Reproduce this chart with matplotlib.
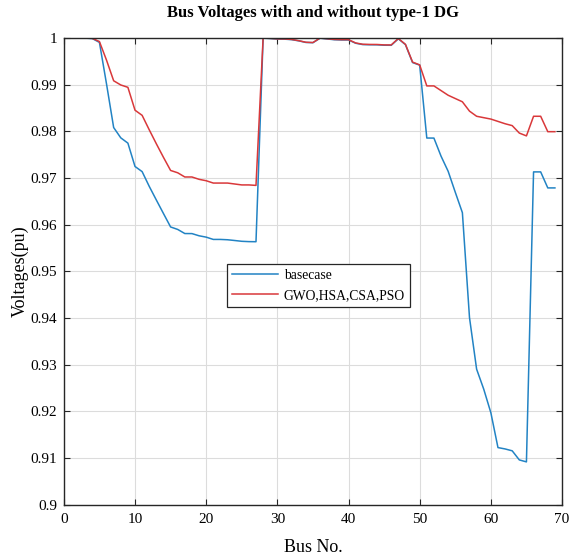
import numpy as np
import matplotlib
matplotlib.use('Agg')
import matplotlib.pyplot as plt

# bus numbers of the 69-bus feeder
bus = np.arange(1, 70)

# voltages without DG (base case)
v_base = [1.0000, 0.99997, 0.99993, 0.99984, 0.99902, 0.99009, 0.98079, 0.97858, 0.97745, 0.97245,
          0.97135, 0.96819, 0.96526, 0.96237, 0.95950, 0.95897, 0.95809, 0.95808, 0.95761, 0.95732,
          0.95683, 0.95683, 0.95676, 0.95660, 0.95643, 0.95636, 0.95634, 0.99993, 0.99985, 0.99973,
          0.99971, 0.99961, 0.99935, 0.99901, 0.99895, 0.99992, 0.99975, 0.99959, 0.99954, 0.99954,
          0.99884, 0.99855, 0.99851, 0.99850, 0.99841, 0.99840, 0.99979, 0.99854, 0.99470, 0.99415,
          0.97854, 0.97853, 0.97466, 0.97142, 0.96694, 0.96256, 0.94008, 0.92905, 0.92477, 0.91973,
          0.91226, 0.91197, 0.91157, 0.90962, 0.90920, 0.97129, 0.97129, 0.96786, 0.96786]

# voltages with type-1 DG (GWO, HSA, CSA, PSO give the same profile)
v_dg = [1.0000, 0.99998, 0.99995, 0.99988, 0.99920, 0.9952, 0.9908, 0.9899, 0.9894, 0.9845,
        0.9834, 0.9803, 0.9773, 0.9744, 0.9716, 0.9711, 0.9702, 0.9702, 0.9697, 0.9694,
        0.9689, 0.9689, 0.9689, 0.9687, 0.9685, 0.9685, 0.9684, 0.99995, 0.99988, 0.99977,
        0.99975, 0.99965, 0.99939, 0.99905, 0.99899, 0.99995, 0.99980, 0.99965, 0.99960, 0.99960,
        0.99890, 0.99862, 0.99858, 0.99857, 0.99848, 0.99847, 0.99985, 0.99860, 0.99480, 0.99420,
        0.9897, 0.9897, 0.9887, 0.9877, 0.9870, 0.9863, 0.9843, 0.9832, 0.9829, 0.9826,
        0.9821, 0.9816, 0.9812, 0.9796, 0.9790, 0.9832, 0.9832, 0.9799, 0.9799]

plt.rcParams['font.family'] = ['Liberation Serif', 'DejaVu Serif']

fig = plt.figure(figsize=(5.7, 5.56), dpi=100)
ax = fig.add_axes([0.112, 0.092, 0.874, 0.840])

ax.plot(bus, v_base, color='#2283C4', lw=1.1, label='basecase')
ax.plot(bus, v_dg, color='#D9383A', lw=1.1, label='GWO,HSA,CSA,PSO')

ax.set_xlim(0, 70)
ax.set_ylim(0.9, 1.0)
ax.set_xticks(np.arange(0, 71, 10))
ax.set_yticks(np.arange(0.9, 1.001, 0.01))
ax.set_yticklabels(['0.9', '0.91', '0.92', '0.93', '0.94', '0.95', '0.96', '0.97', '0.98', '0.99', '1'])
ax.grid(True, color='#DCDCDC', lw=0.8)
ax.tick_params(direction='in', top=True, right=True, labelsize=11, length=4, color='#262626')
ax.tick_params(axis='y', pad=5)
ax.tick_params(axis='x', pad=6)
for s in ax.spines.values():
    s.set_color('#262626')
    s.set_linewidth(1.0)

ax.set_xlabel('Bus No.', fontsize=13, labelpad=9)
ax.set_ylabel('Voltages(pu)', fontsize=13, labelpad=1)
ax.set_title('Bus Voltages with and without type-1 DG', fontsize=12, fontweight='bold', pad=15)

leg = ax.legend(loc='upper left', bbox_to_anchor=(0.313, 0.531), fontsize=9.8,
                fancybox=False, framealpha=1, edgecolor='#262626',
                handlelength=3.4, borderpad=0.4, labelspacing=0.5, handletextpad=0.4)
leg.get_frame().set_linewidth(0.9)

fig.savefig('out.png', dpi=100)
